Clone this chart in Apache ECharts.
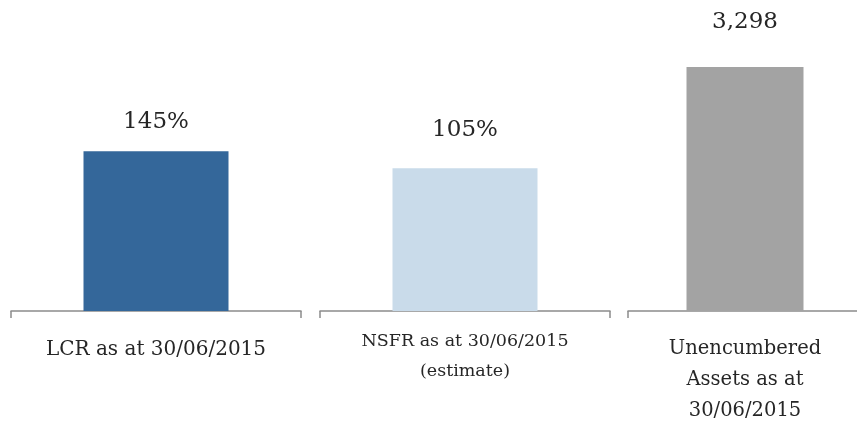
<!DOCTYPE html>
<html>
<head>
<meta charset="utf-8">
<script src="https://cdn.jsdelivr.net/npm/echarts@6/dist/echarts.min.js"></script>
<style>
  html, body { margin: 0; padding: 0; background: #fff; }
  #chart { width: 857px; height: 423px; }
</style>
</head>
<body>
<div id="chart"></div>
<script>
const categories = ['LCR as at 30/06/2015', 'NSFR as at 30/06/2015\n(estimate)', 'Unencumbered\nAssets as at\n30/06/2015']
const values = [145, 105, 3298]
const valueLabels = ['145%', '105%', '3,298']
const axisMax = [264, 214, 3933]
const barColors = ['#34679a', '#c9dbea', '#a3a3a3']

const chart = echarts.init(document.getElementById('chart'))
const font = '"DejaVu Serif", "Liberation Serif", serif'

const grids = [
  { left: 11, width: 290, top: 20, height: 291, outerBoundsMode: 'none' },
  { left: 320, width: 290, top: 20, height: 291, outerBoundsMode: 'none' },
  { left: 628, width: 234, top: 20, height: 291, outerBoundsMode: 'none' },
]
const labelFont = [20, 17.5, 19.5]
const labelMargin = [23, 15, 22]
const labelDistance = [18, 27, 33]

const option = {
  animation: false,
  grid: grids,
  xAxis: categories.map((c, i) => ({
    type: 'category',
    gridIndex: i,
    data: [c],
    axisLine: { lineStyle: { color: '#8c8c8c', width: 1.5 } },
    axisTick: { show: true, length: 7, lineStyle: { color: '#8c8c8c', width: 1.5 } },
    axisLabel: {
      color: '#262626',
      fontFamily: font,
      fontSize: labelFont[i],
      lineHeight: i === 1 ? 30 : 31,
      margin: labelMargin[i],
      interval: 0,
    },
  })),
  yAxis: categories.map((c, i) => ({
    type: 'value',
    gridIndex: i,
    min: 0,
    max: axisMax[i],
    show: false,
    splitLine: { show: false },
  })),
  series: values.map((v, i) => ({
    type: 'bar',
    xAxisIndex: i,
    yAxisIndex: i,
    data: [v],
    barWidth: '50%',
    itemStyle: { color: barColors[i] },
    label: {
      show: true,
      position: 'top',
      distance: labelDistance[i],
      formatter: () => valueLabels[i],
      color: '#262626',
      fontFamily: font,
      fontSize: 23,
    },
  })),
}
chart.setOption(option)
</script>
</body>
</html>
